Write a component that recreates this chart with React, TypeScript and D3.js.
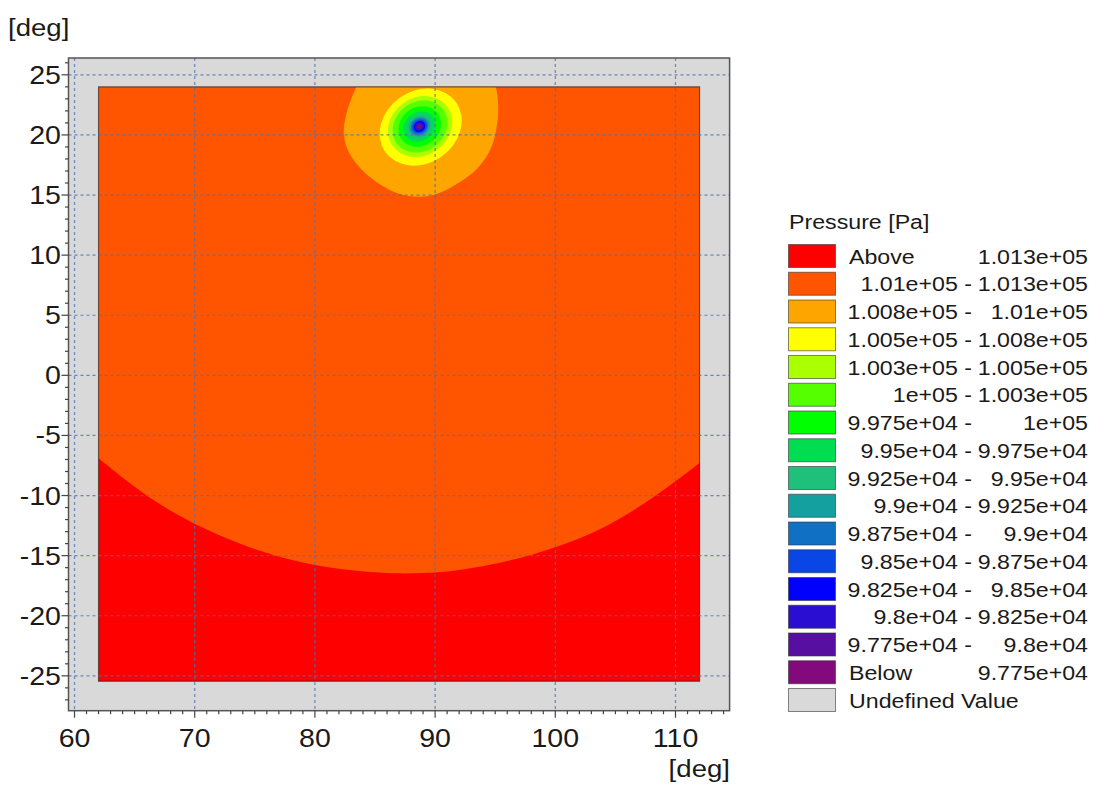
import React from "react";
import * as d3 from "d3";

// axis ticks
const xTicks = [60, 70, 80, 90, 100, 110];
const yTicks = [25, 20, 15, 10, 5, 0, -5, -10, -15, -20, -25];

// legend
const legendColors = [
  "#ff0000", "#ff5500", "#ffa500", "#ffff00", "#aaff00", "#55ff00", "#00ff00",
  "#00dd50", "#1ec07a", "#15a0a0", "#1070c4", "#0a46e6", "#0000ff", "#2a0fd2",
  "#560fa0", "#820a7c", "#d9d9d9",
];
const legendLow = [
  "Above", "1.01e+05 -", "1.008e+05 -", "1.005e+05 -", "1.003e+05 -", "1e+05 -",
  "9.975e+04 -", "9.95e+04 -", "9.925e+04 -", "9.9e+04 -", "9.875e+04 -",
  "9.85e+04 -", "9.825e+04 -", "9.8e+04 -", "9.775e+04 -", "Below", "Undefined Value",
];
const legendHigh = [
  "1.013e+05", "1.013e+05", "1.01e+05", "1.008e+05", "1.005e+05", "1.003e+05",
  "1e+05", "9.975e+04", "9.95e+04", "9.925e+04", "9.9e+04", "9.875e+04",
  "9.85e+04", "9.825e+04", "9.8e+04", "9.775e+04", "",
];

// field extent [deg]
const dataX = [62, 112];
const dataY = [-25.45, 24];

// red / orange boundary
const arcPoints: [number, number][] = [
  [62, -6.9], [66, -10.0], [70, -12.35], [74, -14.1], [78, -15.35], [82, -16.1],
  [86, -16.45], [89, -16.45], [92, -16.2], [96, -15.45], [100, -14.3], [104, -12.65],
  [108, -10.25], [112, -7.3],
];

// 1.008e+05 contour around the low
const blobPoints: [number, number][] = [
  [89, 27.0], [93.3, 26.0], [94.9, 24.3], [95.25, 22.3], [95.0, 20.0], [94.5, 18.6],
  [93.5, 17.2], [92.1, 16.1], [90.4, 15.2], [88.7, 14.85], [87.0, 15.1], [85.4, 15.9],
  [83.9, 17.1], [82.8, 18.6], [82.4, 20.1], [82.6, 21.7], [83.1, 23.2], [83.8, 24.6],
  [85.6, 26.2],
];

// inner contours (outer to inner): colour index, centre, semi axes [deg]
const ringColor = [3, 4, 5, 6, 7, 8, 9, 10, 11, 12, 13, 14, 15];
const ringCx = [88.8, 88.75, 88.75, 88.72, 88.7, 88.7, 88.7, 88.7, 88.7, 88.7, 88.7, 88.7, 88.7];
const ringCy = [20.65, 20.7, 20.7, 20.7, 20.7, 20.7, 20.7, 20.7, 20.7, 20.7, 20.7, 20.7, 20.7];
const ringRx = [3.6, 2.8, 2.4, 1.85, 1.4, 1.1, 0.9, 0.75, 0.62, 0.5, 0.38, 0.27, 0.15];
const ringRy = [3.0, 2.4, 2.05, 1.6, 1.2, 0.95, 0.78, 0.65, 0.54, 0.44, 0.33, 0.24, 0.13];
const ringAngle = 35;

const FONT = "'Liberation Sans', Arial, sans-serif";

function Txt({ x, y, sx, size, anchor, children }: any) {
  return (
    <text
      transform={`translate(${x},${y}) scale(${sx},1)`}
      fontSize={size}
      textAnchor={anchor || "start"}
      fill="#1a1a1a"
      fontFamily={FONT}
    >
      {children}
    </text>
  );
}

export default function App() {
  const x = d3.scaleLinear().domain([59.5, 114.5]).range([68.5, 729.6]);
  const y = d3.scaleLinear().domain([26.4, -27.9]).range([58, 710.7]);
  const k = x(1) - x(0);

  const fx0 = x(dataX[0]), fx1 = x(dataX[1]);
  const fy0 = y(dataY[1]), fy1 = y(dataY[0]);

  const arcLine = d3.line<[number, number]>()
    .x(d => x(d[0])).y(d => y(d[1]))
    .curve(d3.curveNatural);
  const redPath = arcLine(arcPoints) +
    `L${x(dataX[1])},${y(dataY[0])}L${x(dataX[0])},${y(dataY[0])}Z`;

  const blobPath = d3.line<[number, number]>()
    .x(d => x(d[0])).y(d => y(d[1]))
    .curve(d3.curveCatmullRomClosed)(blobPoints);

  const xMinor = d3.range(60, 115, 1);
  const yMinor = d3.range(-27, 27, 1);

  const legX = 788.5, legTop = 244.5, pitch = 27.75, swH = 23, swW = 47;
  const lf = 20, ls = 1.16;

  return (
    <svg width={1102} height={785} style={{ position: "absolute", left: 0, top: 0 }}>
      <defs>
        <clipPath id="field">
          <rect x={fx0} y={fy0} width={fx1 - fx0} height={fy1 - fy0} />
        </clipPath>
      </defs>
      <rect width={1102} height={785} fill="#fff" />

      {/* plot background */}
      <rect x={x(59.5)} y={y(26.4)} width={x(114.5) - x(59.5)} height={y(-27.9) - y(26.4)} fill="#d9d9d9" />

      {/* field */}
      <g clipPath="url(#field)">
        <rect x={fx0} y={fy0} width={fx1 - fx0} height={fy1 - fy0} fill={legendColors[1]} />
        <path d={redPath} fill={legendColors[0]} />
        <path d={blobPath || ""} fill={legendColors[2]} />
        {ringColor.map((c, i) => (
          <ellipse
            key={i}
            cx={x(ringCx[i])}
            cy={y(ringCy[i])}
            rx={ringRx[i] * k}
            ry={ringRy[i] * k}
            transform={`rotate(${-ringAngle},${x(ringCx[i])},${y(ringCy[i])})`}
            fill={legendColors[c]}
          />
        ))}
      </g>
      <rect x={fx0} y={fy0} width={fx1 - fx0} height={fy1 - fy0} fill="none" stroke="#3a1a10" strokeOpacity={0.7} strokeWidth={1.2} />

      {/* grid */}
      <g stroke="#4a70b0" strokeOpacity={0.8} strokeWidth={1.2} strokeDasharray="3,3">
        {xTicks.map(t => (
          <line key={"gx" + t} x1={x(t)} x2={x(t)} y1={y(26.4)} y2={y(-27.9)} />
        ))}
        {yTicks.map(t => (
          <line key={"gy" + t} x1={x(59.5)} x2={x(114.5)} y1={y(t)} y2={y(t)} />
        ))}
      </g>

      {/* frame */}
      <rect x={x(59.5)} y={y(26.4)} width={x(114.5) - x(59.5)} height={y(-27.9) - y(26.4)} fill="none" stroke="#555" strokeWidth={1.5} />

      {/* ticks */}
      <g stroke="#444" strokeWidth={1.2}>
        {xMinor.map(t => (
          <line key={"mx" + t} x1={x(t)} x2={x(t)} y1={y(-27.9)} y2={y(-27.9) + (t % 10 === 0 ? 7 : 3.5)} />
        ))}
        {yMinor.map(t => (
          <line key={"my" + t} x1={x(59.5)} x2={x(59.5) - (t % 5 === 0 ? 7 : 3.5)} y1={y(t)} y2={y(t)} />
        ))}
      </g>

      {/* tick labels */}
      {xTicks.map(t => (
        <Txt key={"tx" + t} x={x(t)} y={747} sx={1.12} size={25.5} anchor="middle">{t}</Txt>
      ))}
      {yTicks.map(t => (
        <Txt key={"ty" + t} x={61} y={y(t) + 9} sx={1.12} size={25.5} anchor="end">{t}</Txt>
      ))}

      <Txt x={8} y={36} sx={1.15} size={24}>[deg]</Txt>
      <Txt x={730} y={777} sx={1.15} size={24} anchor="end">[deg]</Txt>

      {/* legend */}
      <Txt x={789} y={229} sx={ls} size={lf}>Pressure [Pa]</Txt>
      {legendColors.map((c, i) => {
        const ty = legTop + i * pitch;
        const single = i === 0 || i === 15 || i === 16;
        const by = ty + swH / 2 + 7.5;
        return (
          <g key={"lg" + i}>
            <rect x={legX} y={ty} width={swW} height={swH} fill={c} stroke="#333" strokeOpacity={0.6} strokeWidth={1} />
            {single ? (
              <Txt x={849} y={by} sx={ls} size={lf}>{legendLow[i]}</Txt>
            ) : (
              <Txt x={972} y={by} sx={ls} size={lf} anchor="end">{legendLow[i]}</Txt>
            )}
            {legendHigh[i] && (
              <Txt x={1088} y={by} sx={ls} size={lf} anchor="end">{legendHigh[i]}</Txt>
            )}
          </g>
        );
      })}
    </svg>
  );
}
